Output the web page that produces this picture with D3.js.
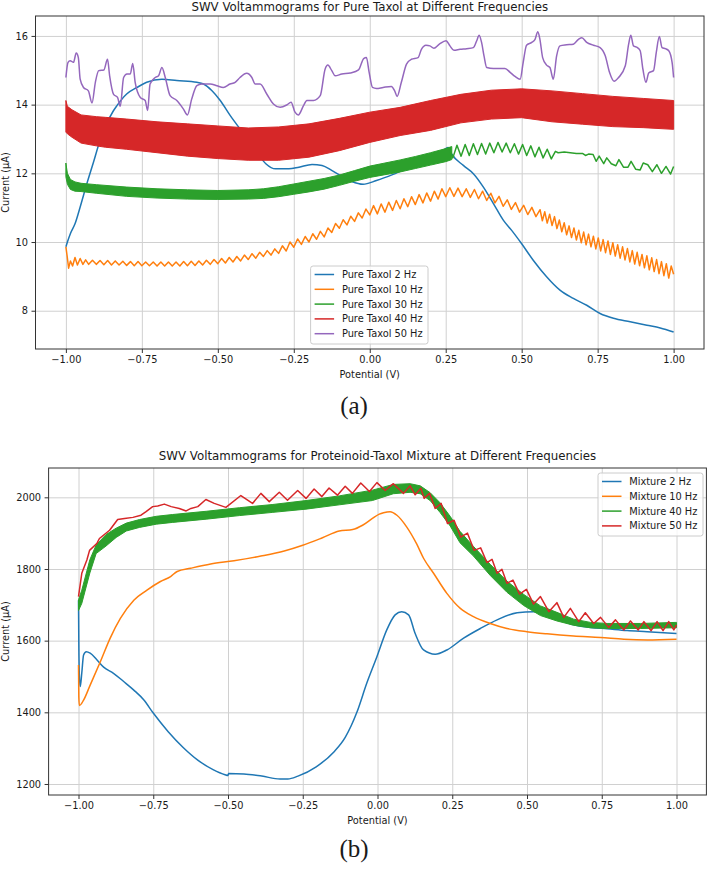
<!DOCTYPE html>
<html>
<head>
<meta charset="utf-8">
<script src="https://cdnjs.cloudflare.com/ajax/libs/d3/7.8.5/d3.min.js"></script>
<style>
body { margin: 0; background: #fff; }
svg text { font-family: "DejaVu Sans", sans-serif; fill: #1a1a1a; }
svg text.caption { font-family: "Liberation Serif", serif; }
.grid line { stroke: #d0d0d0; stroke-width: 1; }
</style>
</head>
<body>
<svg id="fig" width="708" height="869"></svg>
<script>
// ---- shared ticks ----
var xTicks = [-1, -0.75, -0.5, -0.25, 0, 0.25, 0.5, 0.75, 1];
var taxolYTicks = [8, 10, 12, 14, 16];
var mixYTicks = [1200, 1400, 1600, 1800, 2000];

var taxolLabels = ["Pure Taxol 2 Hz", "Pure Taxol 10 Hz", "Pure Taxol 30 Hz", "Pure Taxol 40 Hz", "Pure Taxol 50 Hz"];
var mixLabels = ["Mixture 2 Hz", "Mixture 10 Hz", "Mixture 40 Hz", "Mixture 50 Hz"];

// ---- panel (a): pure taxol, [potential V, current uA] ----
var taxol2 = [[-1.0,9.86],[-0.995,10.0],[-0.985,10.25],[-0.97,10.53],[-0.953,11.02],[-0.931,11.7],[-0.909,12.33],[-0.888,12.95],
  [-0.866,13.44],[-0.845,13.8],[-0.832,13.97],[-0.8,14.31],[-0.766,14.5],[-0.734,14.65],[-0.684,14.74],[-0.635,14.7],[-0.569,14.65],
  [-0.547,14.6],[-0.52,14.41],[-0.492,14.12],[-0.459,13.68],[-0.419,13.2],[-0.375,12.66],[-0.342,12.28],[-0.31,12.13],[-0.266,12.13],
  [-0.233,12.18],[-0.19,12.26],[-0.157,12.23],[-0.124,12.08],[-0.09,11.9],[-0.059,11.76],[-0.022,11.68],[0.022,11.79],[0.077,11.97],
  [0.132,12.18],[0.187,12.39],[0.231,12.57],[0.258,12.75],[0.269,12.57],[0.308,12.23],[0.341,11.99],[0.374,11.6],[0.407,11.12],
  [0.44,10.63],[0.467,10.34],[0.5,9.95],[0.538,9.47],[0.582,8.99],[0.626,8.6],[0.67,8.36],[0.714,8.16],[0.758,7.92],[0.802,7.78],
  [0.857,7.68],[0.912,7.58],[0.956,7.5],[1.0,7.38]];

var taxol10 = [[-1.0,9.86],[-0.996,9.6],[-0.991,9.24],[-0.985,9.45],[-0.978,9.3],[-0.97,9.55],[-0.962,9.33],[-0.953,9.52],[-0.944,9.35],[-0.935,9.48],
  [-0.925,9.35],[-0.9125,9.47],[-0.9,9.35],[-0.8875,9.46],[-0.875,9.34],[-0.8625,9.46],[-0.85,9.33],[-0.8375,9.45],[-0.825,9.33],[-0.8125,9.44],
  [-0.8,9.32],[-0.7875,9.43],[-0.775,9.31],[-0.7625,9.43],[-0.75,9.31],[-0.7375,9.42],[-0.725,9.31],[-0.7125,9.42],[-0.7,9.3],[-0.6875,9.42],
  [-0.675,9.3],[-0.6625,9.42],[-0.65,9.3],[-0.6375,9.42],[-0.625,9.3],[-0.6125,9.43],[-0.6,9.31],[-0.5875,9.44],[-0.575,9.32],[-0.5625,9.45],
  [-0.55,9.33],[-0.5375,9.47],[-0.525,9.35],[-0.5125,9.49],[-0.5,9.37],[-0.4875,9.52],[-0.475,9.39],[-0.4625,9.55],[-0.45,9.42],[-0.4375,9.58],
  [-0.425,9.45],[-0.4125,9.62],[-0.4,9.49],[-0.3875,9.66],[-0.375,9.53],[-0.3625,9.7],[-0.35,9.58],[-0.3375,9.75],[-0.325,9.62],[-0.3125,9.8],
  [-0.3,9.67],[-0.2875,9.89],[-0.275,9.74],[-0.2625,10.0],[-0.25,9.85],[-0.2375,10.09],[-0.225,9.93],[-0.2125,10.16],[-0.2,10.0],[-0.1875,10.24],
  [-0.175,10.08],[-0.1625,10.31],[-0.15,10.15],[-0.1375,10.41],[-0.125,10.28],[-0.1125,10.54],[-0.1,10.4],[-0.0875,10.65],[-0.075,10.5],[-0.0625,10.75],
  [-0.05,10.6],[-0.0375,10.85],[-0.025,10.7],[-0.0125,10.96],[0.0,10.79],[0.0125,11.06],[0.025,10.82],[0.0375,11.11],[0.05,10.87],[0.0625,11.16],
  [0.075,10.92],[0.0875,11.21],[0.1,10.97],[0.1125,11.26],[0.125,11.03],[0.1375,11.32],[0.15,11.09],[0.1625,11.38],[0.175,11.14],[0.1875,11.43],
  [0.2,11.19],[0.2125,11.48],[0.225,11.25],[0.2375,11.55],[0.25,11.32],[0.2635,11.58],[0.277,11.33],[0.2905,11.57],[0.304,11.32],[0.3175,11.55],
  [0.331,11.3],[0.3445,11.53],[0.358,11.26],[0.3715,11.48],[0.385,11.21],[0.3985,11.42],[0.412,11.14],[0.4255,11.33],[0.439,11.04],[0.4525,11.23],
  [0.466,10.95],[0.4795,11.15],[0.493,10.87],[0.5065,11.07],[0.52,10.8],[0.5335,11.01],[0.547,10.74],[0.5605,10.94],[0.568,10.62],[0.576,10.88],
  [0.584,10.55],[0.592,10.81],[0.6,10.48],[0.608,10.74],[0.616,10.39],[0.624,10.64],[0.632,10.3],[0.64,10.56],[0.648,10.21],[0.656,10.47],
  [0.664,10.13],[0.672,10.41],[0.68,10.06],[0.688,10.34],[0.696,9.98],[0.704,10.29],[0.712,9.92],[0.72,10.23],[0.728,9.86],[0.736,10.17],
  [0.744,9.8],[0.752,10.12],[0.76,9.74],[0.768,10.07],[0.776,9.69],[0.784,10.03],[0.792,9.64],[0.8,9.98],[0.808,9.59],[0.816,9.92],
  [0.824,9.53],[0.832,9.86],[0.84,9.48],[0.848,9.81],[0.856,9.42],[0.864,9.75],[0.872,9.36],[0.88,9.7],[0.888,9.31],[0.896,9.64],
  [0.904,9.25],[0.912,9.6],[0.92,9.19],[0.928,9.54],[0.936,9.14],[0.944,9.49],[0.952,9.08],[0.96,9.43],[0.968,9.02],[0.976,9.37],
  [0.984,8.95],[0.992,9.3],[1.0,9.06]];

// 30 Hz: dense oscillation drawn as a band [V, low, high], then the sparser tail as a line
var taxol30Band = [[-1.0,11.9,12.3],[-0.995,11.68,12.0],[-0.985,11.53,11.82],[-0.97,11.48,11.75],[-0.95,11.47,11.71],[-0.9,11.42,11.67],
  [-0.8,11.33,11.6],[-0.7,11.28,11.55],[-0.6,11.25,11.52],[-0.5,11.24,11.5],[-0.4,11.25,11.52],[-0.35,11.27,11.55],[-0.3,11.32,11.61],
  [-0.25,11.39,11.69],[-0.2,11.46,11.77],[-0.15,11.54,11.85],[-0.1,11.65,11.95],[-0.05,11.77,12.08],[0.0,11.88,12.21],[0.05,11.96,12.3],
  [0.1,12.04,12.39],[0.15,12.14,12.49],[0.2,12.24,12.6],[0.25,12.34,12.72],[0.27,12.4,12.78]];
var taxol30 = [[0.26,12.75],[0.2735,12.45],[0.287,12.82],[0.3005,12.5],[0.314,12.84],[0.3275,12.52],[0.341,12.86],[0.3545,12.55],[0.368,12.87],
  [0.3815,12.56],[0.395,12.88],[0.4085,12.6],[0.422,12.9],[0.4355,12.62],[0.449,12.88],[0.4625,12.6],[0.476,12.86],[0.4895,12.56],[0.503,12.84],
  [0.5165,12.52],[0.53,12.8],[0.5435,12.48],[0.557,12.76],[0.5705,12.45],[0.584,12.7],[0.5975,12.42],[0.611,12.64],[0.62,12.6],[0.64,12.62],
  [0.66,12.6],[0.68,12.58],[0.7,12.58],[0.71,12.52],[0.72,12.56],[0.735,12.55],[0.745,12.35],[0.755,12.5],[0.77,12.28],[0.78,12.45],
  [0.795,12.28],[0.81,12.22],[0.82,12.4],[0.835,12.18],[0.85,12.18],[0.86,12.35],[0.875,12.12],[0.89,12.1],[0.9,12.3],[0.915,12.25],
  [0.93,12.05],[0.945,12.25],[0.96,12.0],[0.975,12.2],[0.99,11.98],[1.0,12.2]];

// 40 Hz: solid oscillation band [V, low, high]
var taxol40Band = [[-1.0,13.2,14.12],[-0.995,13.15,13.95],[-0.98,13.05,13.85],[-0.95,12.88,13.7],[-0.9,12.8,13.65],[-0.87,12.76,13.63],
  [-0.8,12.7,13.58],[-0.7,12.6,13.5],[-0.6,12.5,13.44],[-0.5,12.43,13.38],[-0.4,12.38,13.32],[-0.3,12.38,13.35],[-0.2,12.47,13.44],
  [-0.1,12.66,13.6],[0.0,12.9,13.78],[0.1,13.1,13.92],[0.2,13.25,14.12],[0.3,13.47,14.3],[0.4,13.58,14.42],[0.5,13.62,14.46],
  [0.6,13.5,14.4],[0.7,13.43,14.32],[0.8,13.36,14.24],[0.9,13.33,14.18],[1.0,13.28,14.12]];

var taxol50 = [[-1.0,14.79],[-0.993,15.23],[-0.986,15.28],[-0.975,15.23],[-0.966,15.5],[-0.959,15.37],[-0.953,14.74],[-0.942,14.5],
  [-0.926,14.4],[-0.914,14.05],[-0.903,14.65],[-0.892,14.99],[-0.875,15.01],[-0.863,15.32],[-0.856,14.84],[-0.843,14.3],[-0.83,14.21],
  [-0.821,13.95],[-0.81,14.79],[-0.799,14.89],[-0.788,14.89],[-0.78,15.2],[-0.772,14.65],[-0.755,14.21],[-0.739,14.12],[-0.731,13.83],
  [-0.723,14.6],[-0.706,14.79],[-0.695,14.84],[-0.684,15.08],[-0.673,14.79],[-0.657,14.26],[-0.635,14.12],[-0.613,13.87],[-0.6,13.7],
  [-0.586,14.16],[-0.569,14.55],[-0.553,14.6],[-0.525,14.6],[-0.503,14.55],[-0.482,14.5],[-0.46,14.6],[-0.443,14.65],[-0.427,14.79],
  [-0.405,14.91],[-0.388,14.79],[-0.377,14.6],[-0.361,14.6],[-0.339,14.31],[-0.317,14.02],[-0.295,13.92],[-0.273,13.99],[-0.259,14.07],
  [-0.246,13.78],[-0.235,13.7],[-0.218,13.97],[-0.207,14.12],[-0.185,14.12],[-0.163,14.26],[-0.147,15.03],[-0.138,15.15],[-0.125,14.99],
  [-0.114,14.84],[-0.092,14.89],[-0.064,14.92],[-0.037,15.01],[-0.02,15.34],[-0.011,15.37],[-0.002,14.94],[0.009,14.5],[0.022,14.47],
  [0.044,14.5],[0.071,14.53],[0.082,14.4],[0.09,14.24],[0.104,14.65],[0.121,15.18],[0.137,15.32],[0.159,15.37],[0.17,15.61],[0.185,15.73],
  [0.198,15.71],[0.211,15.64],[0.229,15.76],[0.251,15.86],[0.264,15.71],[0.277,15.58],[0.297,15.61],[0.319,15.63],[0.341,15.66],[0.352,15.86],
  [0.36,16.02],[0.368,15.81],[0.376,15.42],[0.385,15.08],[0.407,15.05],[0.429,15.05],[0.445,15.05],[0.462,14.94],[0.478,14.82],[0.495,14.74],
  [0.505,15.23],[0.516,15.73],[0.533,15.81],[0.544,15.9],[0.553,16.12],[0.56,15.9],[0.569,15.37],[0.582,15.15],[0.593,15.08],[0.604,14.74],
  [0.615,15.42],[0.626,15.71],[0.648,15.74],[0.67,15.76],[0.687,15.9],[0.698,15.95],[0.714,15.81],[0.736,15.73],[0.758,15.66],[0.775,15.42],
  [0.789,14.94],[0.804,14.68],[0.819,14.79],[0.841,15.13],[0.852,15.76],[0.859,16.02],[0.868,15.71],[0.881,15.66],[0.89,15.57],[0.899,15.03],
  [0.909,14.65],[0.918,14.92],[0.934,14.99],[0.943,15.52],[0.953,15.98],[0.962,15.66],[0.973,15.63],[0.984,15.57],[0.995,15.23],[1.0,14.79]];

// ---- panel (b): proteinoid-taxol mixture ----
var mix2 = [[-1.0,1713],[-0.999,1600],[-0.997,1500],[-0.994,1472],[-0.989,1510],[-0.983,1560],[-0.974,1569],[-0.961,1565],[-0.938,1546],
  [-0.916,1526],[-0.883,1509],[-0.849,1486],[-0.815,1462],[-0.782,1435],[-0.75,1398],[-0.7,1346],[-0.65,1302],[-0.6,1266],
  [-0.55,1240],[-0.51,1226],[-0.5,1224],[-0.498,1229],[-0.447,1228],[-0.387,1222],[-0.326,1214],[-0.3,1214],[-0.266,1222],
  [-0.205,1248],[-0.145,1290],[-0.108,1330],[-0.069,1400],[-0.036,1481],[-0.002,1555],[0.031,1630],[0.059,1672],[0.081,1681],
  [0.104,1672],[0.126,1620],[0.154,1574],[0.193,1562],[0.232,1574],[0.288,1607],[0.344,1634],[0.4,1658],[0.467,1678],[0.522,1681],
  [0.567,1672],[0.612,1658],[0.656,1644],[0.712,1637],[0.768,1633],[0.835,1628],[0.902,1625],[1.0,1620]];

var mix10 = [[-1.0,1532],[-0.999,1444],[-0.997,1419],[-0.983,1434],[-0.961,1476],[-0.927,1541],[-0.894,1607],[-0.86,1662],[-0.815,1713],
  [-0.771,1741],[-0.726,1765],[-0.692,1779],[-0.67,1793],[-0.625,1802],[-0.558,1814],[-0.48,1823],[-0.39,1836],[-0.312,1850],[-0.25,1866],
  [-0.184,1887],[-0.128,1906],[-0.083,1910],[-0.05,1922],[-0.017,1941],[0.006,1953],[0.02,1957],[0.042,1960],[0.065,1950],[0.098,1917],
  [0.131,1870],[0.154,1830],[0.1875,1788],[0.232,1732],[0.277,1690],[0.321,1667],[0.377,1648],[0.433,1634],[0.5,1625],[0.567,1619],
  [0.656,1613],[0.746,1609],[0.824,1604],[0.902,1602],[1.0,1604]];

var mix40Band = [[-1.0,1684,1714],[-0.989,1704,1741],[-0.962,1789,1826],[-0.941,1843,1867],[-0.908,1864,1896],[-0.874,1888,1914],
  [-0.84,1906,1928],[-0.796,1916,1938],[-0.74,1925,1947],[-0.685,1930,1952],[-0.573,1939,1961],[-0.462,1949,1971],[-0.35,1958,1980],
  [-0.239,1967,1991],[-0.128,1979,2004],[-0.017,1991,2020],[0.053,2010,2036],[0.109,2014,2038],[0.143,2010,2032],[0.176,1991,2013],
  [0.209,1958,1985],[0.243,1920,1947],[0.276,1873,1905],[0.321,1836,1863],[0.377,1782,1813],[0.433,1735,1766],[0.489,1698,1729],
  [0.545,1670,1697],[0.6,1655,1679],[0.656,1643,1660],[0.712,1636,1651],[0.768,1634,1648],[0.88,1634,1648],[1.0,1636,1651]];

var mix50 = [[-1.0,1723],[-0.989,1788],[-0.972,1825],[-0.963,1852],[-0.938,1872],[-0.93,1885],[-0.896,1908],[-0.869,1938],[-0.846,1941],
  [-0.818,1944],[-0.791,1950],[-0.774,1960],[-0.752,1974],[-0.735,1976],[-0.713,1981],[-0.69,1974],[-0.663,1969],[-0.64,1962],[-0.624,1969],
  [-0.601,1974],[-0.574,1994],[-0.546,1983],[-0.507,1972],[-0.457,2005],[-0.418,1983],[-0.39,2011],[-0.362,1988],[-0.3285,2014],[-0.301,1992],
  [-0.267,2019],[-0.239,1997],[-0.212,2023],[-0.186,2002],[-0.162,2026],[-0.134,2006],[-0.108,2031],[-0.084,2011],[-0.056,2040],[-0.027,2016],
  [-0.002,2041],[0.026,2019],[0.053,2038],[0.087,2011],[0.109,2032],[0.126,2007],[0.145,2025],[0.156,1997],[0.174,2011],[0.193,1969],
  [0.213,1983],[0.234,1927],[0.256,1936],[0.278,1889],[0.301,1900],[0.323,1852],[0.345,1859],[0.366,1818],[0.383,1827],[0.4,1788],
  [0.416,1799],[0.433,1760],[0.453,1769],[0.475,1730],[0.498,1743],[0.522,1702],[0.545,1723],[0.573,1681],[0.6,1706],[0.623,1665],
  [0.645,1690],[0.673,1653],[0.695,1678],[0.723,1648],[0.746,1665],[0.773,1637],[0.796,1658],[0.824,1630],[0.846,1655],[0.872,1630],
  [0.891,1653],[0.915,1628],[0.935,1653],[0.955,1628],[0.974,1653],[0.991,1630],[1.0,1644]];

var C = {blue: "#1f77b4", orange: "#ff7f0e", green: "#2ca02c", red: "#d62728", purple: "#9467bd"};

var svg = d3.select("#fig");

function drawPanel(p) {
    var x = d3.scaleLinear().domain([-1.1, 1.1]).range([p.left, p.right]);
    var y = d3.scaleLinear().domain(p.yDomain).range([p.bottom, p.top]);
    var g = svg.append("g");

    // grid lines
    var gx = g.append("g").attr("class", "grid")
        .attr("transform", "translate(0," + p.bottom + ")")
        .call(d3.axisBottom(x).tickValues(xTicks).tickSize(-(p.bottom - p.top)).tickFormat(""));
    gx.select(".domain").remove();
    var gy = g.append("g").attr("class", "grid")
        .attr("transform", "translate(" + p.left + ",0)")
        .call(d3.axisLeft(y).tickValues(p.yTicks).tickSize(-(p.right - p.left)).tickFormat(""));
    gy.select(".domain").remove();

    var line = d3.line().x(function(d) { return x(d[0]); }).y(function(d) { return y(d[1]); });
    var smooth = d3.line().curve(d3.curveMonotoneX)
        .x(function(d) { return x(d[0]); }).y(function(d) { return y(d[1]); });
    var area = d3.area().x(function(d) { return x(d[0]); })
        .y0(function(d) { return y(d[1]); }).y1(function(d) { return y(d[2]); });

    p.series.forEach(function(s) {
        if (s.band) {
            g.append("path").attr("d", area(s.band))
                .attr("fill", s.color).attr("stroke", s.color).attr("stroke-width", 1)
                .attr("stroke-linejoin", "round");
        }
        if (s.data) {
            g.append("path").attr("d", (s.smooth ? smooth : line)(s.data))
                .attr("fill", "none").attr("stroke", s.color).attr("stroke-width", 1.5)
                .attr("stroke-linejoin", "round");
        }
    });

    // frame
    g.append("rect").attr("x", p.left).attr("y", p.top)
        .attr("width", p.right - p.left).attr("height", p.bottom - p.top)
        .attr("fill", "none").attr("stroke", "#333").attr("stroke-width", 1);

    // axes
    var ax = g.append("g").attr("transform", "translate(0," + p.bottom + ")")
        .call(d3.axisBottom(x).tickValues(xTicks).tickSize(4).tickPadding(3.5).tickFormat(d3.format(".2f")));
    var ay = g.append("g").attr("transform", "translate(" + p.left + ",0)")
        .call(d3.axisLeft(y).tickValues(p.yTicks).tickSize(4).tickPadding(3.5).tickFormat(d3.format("d")));
    [ax, ay].forEach(function(a) {
        a.select(".domain").remove();
        a.selectAll(".tick line").attr("stroke", "#333");
        a.selectAll("text").attr("font-size", 9.8).attr("fill", "#1a1a1a");
    });

    g.append("text").attr("x", (p.left + p.right) / 2).attr("y", p.titleY)
        .attr("text-anchor", "middle").attr("font-size", 11.8).text(p.title);
    g.append("text").attr("x", (p.left + p.right) / 2).attr("y", p.xlabelY)
        .attr("text-anchor", "middle").attr("font-size", 9.8).text("Potential (V)");
    g.append("text").attr("transform", "translate(9," + ((p.top + p.bottom) / 2) + ") rotate(-90)")
        .attr("text-anchor", "middle").attr("font-size", 9.8).text("Current (\u00b5A)");

    // legend
    var L = p.legend;
    var lg = g.append("g");
    lg.append("rect").attr("x", L.x).attr("y", L.y).attr("width", L.w)
        .attr("height", L.h).attr("rx", 2.5)
        .attr("fill", "#fff").attr("fill-opacity", 0.8).attr("stroke", "#cccccc").attr("stroke-width", 1);
    p.series.forEach(function(s, i) {
        var cy = L.y + 8.5 + i * 14.8;
        lg.append("line").attr("x1", L.x + 4).attr("x2", L.x + 23.5).attr("y1", cy).attr("y2", cy)
            .attr("stroke", s.color).attr("stroke-width", 1.5);
        lg.append("text").attr("x", L.x + 31.3).attr("y", cy).attr("dy", "0.36em")
            .attr("font-size", 9.8).text(s.label);
    });

    svg.append("text").attr("class", "caption").attr("x", 354).attr("y", p.capY)
        .attr("text-anchor", "middle").attr("font-size", 25).text(p.caption);
}

drawPanel({
    left: 35.5, right: 704, top: 16, bottom: 349,
    yDomain: [6.886, 16.58], yTicks: taxolYTicks,
    title: "SWV Voltammograms for Pure Taxol at Different Frequencies",
    titleY: 11.3, xlabelY: 377.5, capY: 413.5, caption: "(a)",
    legend: {x: 310.6, y: 266, w: 117.4, h: 78},
    series: [
        {label: taxolLabels[0], color: C.blue, data: taxol2, smooth: true},
        {label: taxolLabels[1], color: C.orange, data: taxol10},
        {label: taxolLabels[2], color: C.green, band: taxol30Band, data: taxol30},
        {label: taxolLabels[3], color: C.red, band: taxol40Band},
        {label: taxolLabels[4], color: C.purple, data: taxol50, smooth: true}
    ]
});

drawPanel({
    left: 48.6, right: 706.4, top: 468, bottom: 795,
    yDomain: [1169.3, 2081.8], yTicks: mixYTicks,
    title: "SWV Voltammograms for Proteinoid-Taxol Mixture at Different Frequencies",
    titleY: 460.3, xlabelY: 824, capY: 857, caption: "(b)",
    legend: {x: 598, y: 473, w: 105, h: 63},
    series: [
        {label: mixLabels[0], color: C.blue, data: mix2, smooth: true},
        {label: mixLabels[1], color: C.orange, data: mix10, smooth: true},
        {label: mixLabels[2], color: C.green, band: mix40Band},
        {label: mixLabels[3], color: C.red, data: mix50}
    ]
});
</script>
</body>
</html>
